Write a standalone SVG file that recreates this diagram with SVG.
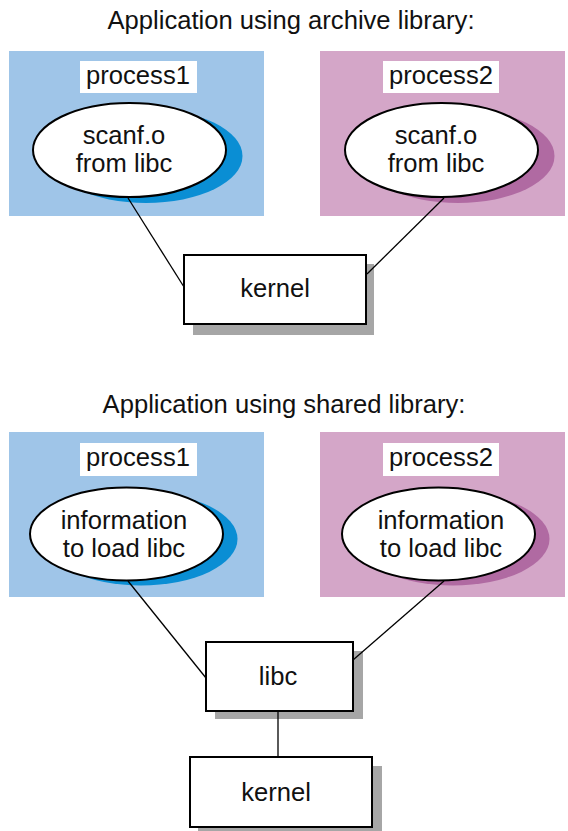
<svg xmlns="http://www.w3.org/2000/svg" width="568" height="831" viewBox="0 0 568 831">
<style>
text{font-family:"Liberation Sans",Arial,Helvetica,sans-serif;font-size:25.6px;fill:#111;text-anchor:middle}
.blue{fill:#9fc5e8}
.pink{fill:#d4a6c8}
.bsh{fill:#0a8ed4}
.psh{fill:#b06aa2}
.lbl{fill:#fff}
.ell{fill:#fff;stroke:#000;stroke-width:2}
.box{fill:#fff;stroke:#000;stroke-width:2}
.sh{fill:#a6a6a6}
.con line{stroke:#000;stroke-width:1.3}
</style>
<rect width="568" height="831" fill="#fff"/>
<text x="291" y="29">Application using archive library:</text>
<text x="284" y="413">Application using shared library:</text>

<g id="a_process1">
<rect class="blue" x="9" y="51" width="255" height="165"/>
<rect class="lbl" x="80" y="61" width="117" height="32"/>
<text x="138" y="84">process1</text>
<ellipse class="bsh" cx="146" cy="156" rx="96.5" ry="47"/>
<ellipse class="ell" cx="129.5" cy="150" rx="96.5" ry="47"/>
<text x="124" y="144">scanf.o</text>
<text x="124" y="172">from libc</text>
</g>
<g id="a_process2">
<rect class="pink" x="320" y="51" width="245" height="165"/>
<rect class="lbl" x="383" y="61" width="116" height="32"/>
<text x="441" y="84">process2</text>
<ellipse class="psh" cx="458" cy="156" rx="96.5" ry="47"/>
<ellipse class="ell" cx="441.5" cy="150" rx="96.5" ry="47"/>
<text x="436" y="144">scanf.o</text>
<text x="436" y="172">from libc</text>
</g>
<g id="a_kernel">
<rect class="sh" x="193" y="264" width="181" height="71"/>
<rect class="box" x="184" y="255" width="182" height="69"/>
<text x="275" y="297">kernel</text>
</g>

<g id="s_process1">
<rect class="blue" x="9" y="432" width="255" height="165"/>
<rect class="lbl" x="80" y="443" width="117" height="33"/>
<text x="138" y="466">process1</text>
<ellipse class="bsh" cx="141" cy="539" rx="96.5" ry="46.5"/>
<ellipse class="ell" cx="126.5" cy="534" rx="96.5" ry="46.5"/>
<text x="124" y="529">information</text>
<text x="124" y="557">to load libc</text>
</g>
<g id="s_process2">
<rect class="pink" x="320" y="432" width="245" height="165"/>
<rect class="lbl" x="383" y="443" width="116" height="33"/>
<text x="441" y="466">process2</text>
<ellipse class="psh" cx="453" cy="539" rx="96.5" ry="46.5"/>
<ellipse class="ell" cx="438.5" cy="534" rx="96.5" ry="46.5"/>
<text x="441" y="529">information</text>
<text x="441" y="557">to load libc</text>
</g>
<g id="s_libc">
<rect class="sh" x="215" y="651" width="148" height="68"/>
<rect class="box" x="206" y="642" width="147" height="69"/>
<text x="278" y="685">libc</text>
</g>
<g id="s_kernel">
<rect class="sh" x="198" y="766" width="184" height="65"/>
<rect class="box" x="190" y="757" width="182" height="70"/>
<text x="276" y="801">kernel</text>
</g>

<g class="con">
<line x1="128" y1="198" x2="184" y2="287"/>
<line x1="444" y1="198" x2="367" y2="274"/>
<line x1="128" y1="581" x2="206" y2="678"/>
<line x1="444" y1="581" x2="353" y2="660"/>
<line x1="278" y1="712" x2="278" y2="756"/>
</g>
</svg>
